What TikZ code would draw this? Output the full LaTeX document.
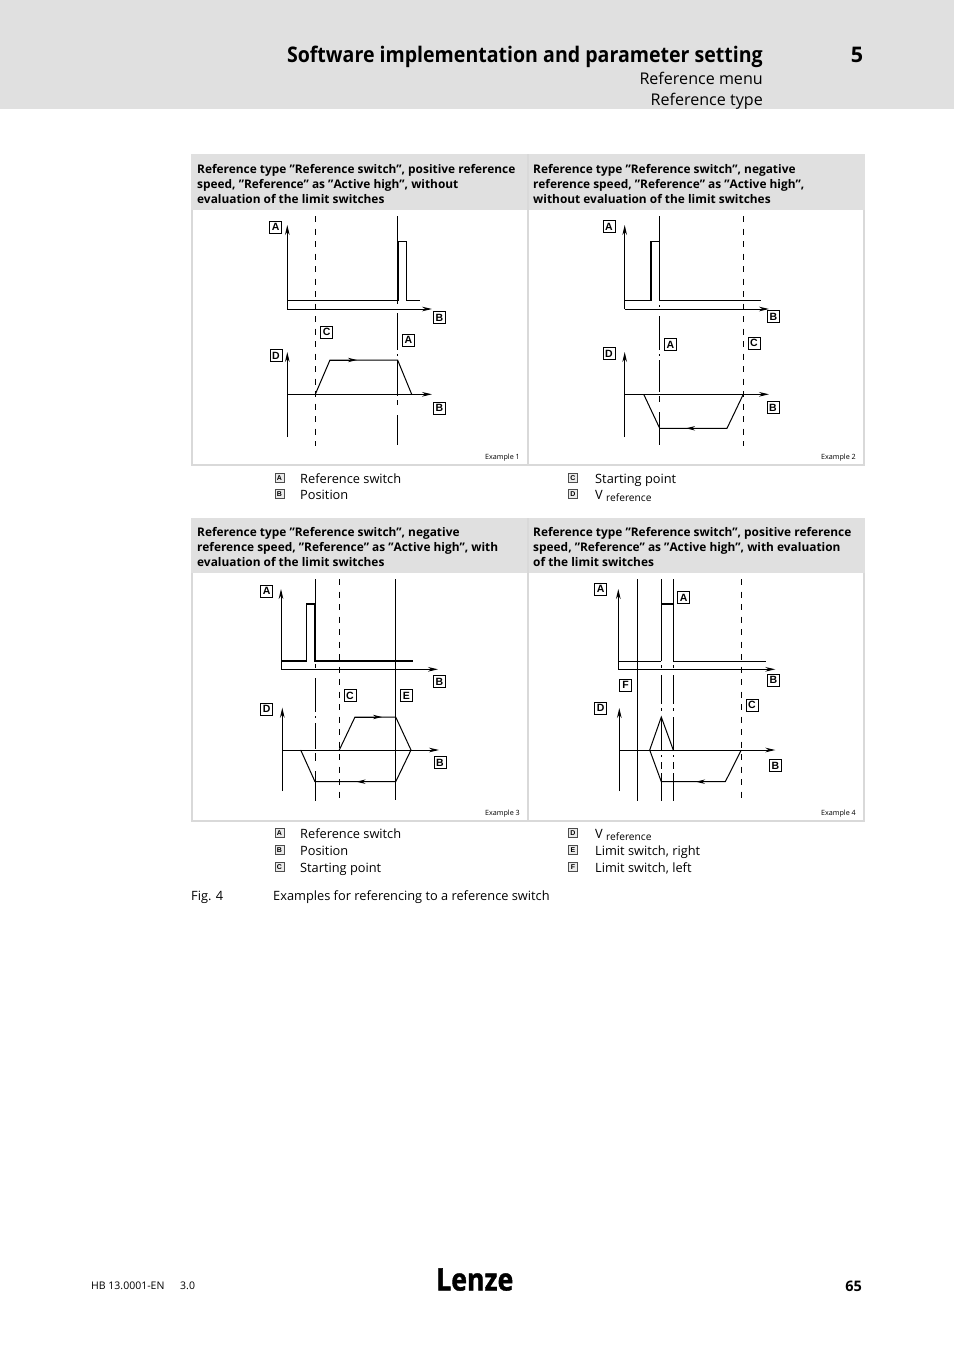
\documentclass[tikz,border=0pt]{standalone}
\usepackage{fontspec}
\setmainfont{Open Sans}
\newfontfamily\arialf{Liberation Sans}
\newfontfamily\titlef{Open Sans}[BoldFeatures={FakeStretch=0.91}]
\newfontfamily\logof{Open Sans}[BoldFeatures={FakeStretch=0.86,FakeBold=1.2}]
\usetikzlibrary{arrows.meta}
\definecolor{band}{HTML}{E0E0E0}
\definecolor{frameg}{HTML}{D9D9D9}
\newcommand{\fs}[1]{\fontsize{#1}{#1}\selectfont}
\tikzset{
  axis/.style={line width=1pt,-{Stealth[length=10pt,width=4.6pt]}},
  thin line/.style={line width=1pt},
  thick line/.style={line width=2pt},
  trace/.style={line width=1pt,line join=miter},
  dash line/.style={line width=1pt,dash pattern=on 6pt off 6.5pt},
  lbl/.style={draw,line width=.8pt,minimum width=12pt,minimum height=12pt,inner sep=0pt,font=\arialf\bfseries\fs{10.5}},
  ico/.style={draw=black!70,line width=.5pt,fill=black!8,minimum width=9pt,minimum height=9pt,inner sep=0pt,font=\arialf\bfseries\fs{7}},
  head/.style={anchor=north west,align=left,inner sep=0pt,font=\bfseries\fontsize{11.9}{15}\selectfont},
  legend/.style={anchor=base west,inner sep=0pt,font=\fs{12.8}},
  ex/.style={anchor=east,inner sep=0pt,font=\fs{7.2}},
  panel/.style={draw=frameg,line width=1.5pt},
  flow/.style={line width=1pt,-{Stealth[length=9pt,width=4.4pt]}},
}
\begin{document}
\begin{tikzpicture}[x=1pt,y=-1pt]
\useasboundingbox (0,0) rectangle (954,1350);
\fill[white] (0,0) rectangle (954,1350);
\fill[band] (0,0) rectangle (954,109);
\node[anchor=base east,inner sep=0pt,font=\titlef\bfseries\fs{21.5}] (title) at (763,62) {Software implementation and parameter setting};
\node[anchor=base,inner sep=0pt,font=\bfseries\fs{21.5}] (chap) at (857,62) {5};
\node[anchor=base east,inner sep=0pt,font=\fs{16.1}] (sub1) at (763,84) {Reference menu};
\node[anchor=base east,inner sep=0pt,font=\fs{16.1}] (sub2) at (763,105) {Reference type};
% panels
\draw[panel] (192,154) -- (192,465) -- (864,465) -- (864,154) (528,154) -- (528,465);
\draw[panel] (192,518) -- (192,821) -- (864,821) -- (864,518) (528,518) -- (528,821);
\fill[band] (191.3,154) rectangle (527,210);
\fill[band] (529,154) rectangle (864.7,210);
\fill[band] (191.3,518) rectangle (527,573);
\fill[band] (529,518) rectangle (864.7,573);
\node[head] (h1) at (197,164) {Reference type ”Reference switch”, positive reference\\speed, ”Reference” as ”Active high”, without\\evaluation of the limit switches};
\node[head] (h2) at (533,164) {Reference type ”Reference switch”, negative\\reference speed, ”Reference” as ”Active high”,\\without evaluation of the limit switches};
\node[head] (h3) at (197,527) {Reference type ”Reference switch”, negative\\reference speed, ”Reference” as ”Active high”, with\\evaluation of the limit switches};
\node[head] (h4) at (533,527) {Reference type ”Reference switch”, positive reference\\speed, ”Reference” as ”Active high”, with evaluation\\of the limit switches};
\node[ex] (e1) at (520,457.5) {Example 1};
\node[ex] (e2) at (856,457.5) {Example 2};
\node[ex] (e3) at (520,813.5) {Example 3};
\node[ex] (e4) at (856,813.5) {Example 4};
% diagram 1
\draw[dash line] (315.3,216) -- (315.3,446);
\draw[thin line] (397.6,216) -- (397.6,304) (397.6,313) -- (397.6,350) (397.6,354) -- (397.6,356) (397.6,360) -- (397.6,396) (397.6,400) -- (397.6,405) (397.6,415) -- (397.6,445);
\draw[axis] (287.3,309) -- (287.3,225);
\draw[axis] (287.3,309) -- (432,309);
\draw[thin line] (287.3,300.3) -- (397.6,300.3);
\draw[thick line] (398,300.8) -- (398,241);
\draw[thin line] (398,241) -- (406.7,241) -- (406.7,300.3) -- (420,300.3);
\draw[axis] (287.3,437) -- (287.3,352);
\draw[axis] (287.3,394.3) -- (432,394.3);
\draw[trace] (315.3,394.3) -- (330,360) -- (397.6,360) -- (411.7,394.3);
\draw[flow] (330,360) -- (357,360);
\node[lbl] (a1) at (275.7,227) {A};
\node[lbl] (b1) at (439.3,317.7) {B};
\node[lbl] (c1) at (326.7,332.3) {C};
\node[lbl] (a1b) at (408.3,340) {A};
\node[lbl] (d1) at (276,355.5) {D};
\node[lbl] (b1b) at (439.3,408.3) {B};
% diagram 2
\draw[dash line] (743.3,216) -- (743.3,446);
\draw[thin line] (659.7,216) -- (659.7,301) (659.7,305) -- (659.7,307) (659.7,316) -- (659.7,350) (659.7,354) -- (659.7,356) (659.7,360) -- (659.7,392) (659.7,396) -- (659.7,402) (659.7,412) -- (659.7,445);
\draw[axis] (624.7,309) -- (624.7,225);
\draw[axis] (624.7,309) -- (769,309);
\draw[thin line] (624.7,300.3) -- (650.7,300.3);
\draw[thick line] (650.7,300.8) -- (650.7,241);
\draw[thin line] (650.7,241) -- (659.7,241);
\draw[thin line] (659.7,300.3) -- (761.3,300.3);
\draw[axis] (624.7,437) -- (624.7,352);
\draw[axis] (624.7,394.3) -- (769,394.3);
\draw[trace] (643.7,394.3) -- (659.7,428.3) -- (727,428.3) -- (743.3,394.3);
\draw[flow] (714,428.3) -- (686,428.3);
\node[lbl] (a2) at (609,226.5) {A};
\node[lbl] (b2) at (773.5,316.7) {B};
\node[lbl] (a2b) at (670.3,344.7) {A};
\node[lbl] (c2) at (754,343.3) {C};
\node[lbl] (d2) at (609,353.5) {D};
\node[lbl] (b2b) at (773,407.7) {B};
% diagram 3
\draw[dash line] (339.3,579) -- (339.3,801);
\draw[thin line] (315,579) -- (315,660) (315,664) -- (315,668) (315,678) -- (315,712) (315,716) -- (315,718) (315,723) -- (315,749) (315,753) -- (315,761) (315,771) -- (315,801);
\draw[thin line] (395.7,579) -- (395.7,800);
\draw[axis] (281,669.3) -- (281,589);
\draw[axis] (281,669.3) -- (438,669.3);
\draw[thick line] (281,660.7) -- (306.7,660.7);
\draw[thin line] (306.7,660.7) -- (306.7,604);
\draw[thick line] (306.3,604) -- (315,604) -- (315,660.7) -- (412.7,660.7);
\draw[axis] (282.3,791) -- (282.3,707.7);
\draw[axis] (282.3,750) -- (439,750);
\draw[trace] (339.3,750) -- (355,717) -- (395.7,717) -- (411,750) -- (395.7,781.7) -- (315,781.7) -- (300.7,750);
\draw[flow] (355,717) -- (382,717);
\draw[flow] (384,781.7) -- (356.5,781.7);
\node[lbl] (a3) at (266.7,591) {A};
\node[lbl] (b3) at (439.3,681.7) {B};
\node[lbl] (c3) at (350,695.7) {C};
\node[lbl] (e3l) at (406.3,695.7) {E};
\node[lbl] (d3) at (266.7,709) {D};
\node[lbl] (b3b) at (440,762.7) {B};
% diagram 4
\draw[dash line] (741.3,579) -- (741.3,801);
\draw[thin line] (637.3,579) -- (637.3,801);
\draw[thin line] (661.3,579) -- (661.3,661) (661.3,665) -- (661.3,668) (661.3,675) -- (661.3,704) (661.3,708) -- (661.3,711) (661.3,717) -- (661.3,751) (661.3,755) -- (661.3,757) (661.3,762) -- (661.3,769) (661.3,773) -- (661.3,801);
\draw[thin line] (673.3,579) -- (673.3,661) (673.3,665) -- (673.3,668) (673.3,675) -- (673.3,704) (673.3,708) -- (673.3,711) (673.3,717) -- (673.3,751) (673.3,755) -- (673.3,757) (673.3,762) -- (673.3,769) (673.3,773) -- (673.3,801);
\draw[axis] (618.3,669.3) -- (618.3,589);
\draw[axis] (618.3,669.3) -- (775.3,669.3);
\draw[thin line] (618.3,661) -- (661.3,661);
\draw[thick line] (661.3,604) -- (673.3,604);
\draw[thin line] (673.3,661) -- (765.7,661);
\draw[axis] (619.3,791) -- (619.3,708);
\draw[axis] (619.3,750) -- (775.3,750);
\draw[trace] (741.3,750) -- (725.3,781.7) -- (661.3,781.7) -- (649.7,750) -- (661.3,717) -- (673.3,750);
\draw[flow] (712,781.7) -- (696,781.7);
\draw[line width=1.5pt] (661.3,781.7) -- (696,781.7);
\node[lbl] (a4) at (600.7,589) {A};
\node[lbl] (a4b) at (683.7,597.7) {A};
\node[lbl] (f4) at (625.7,685) {F};
\node[lbl] (b4) at (773.3,680) {B};
\node[lbl] (d4) at (600.7,708.3) {D};
\node[lbl] (c4) at (752,705) {C};
\node[lbl] (b4b) at (775.3,765.7) {B};
% legends
\node[ico] (la) at (279.3,478) {A}; \node[legend] (lat) at (300,483) {Reference switch};
\node[ico] (lb) at (279.3,494) {B}; \node[legend] (lbt) at (300,499) {Position};
\node[ico] (lc) at (573,478) {C}; \node[legend] (lct) at (595,483) {Starting point};
\node[ico] (ld) at (573,494) {D}; \node[legend] (ldt) at (595,499) {V {\fs{10.2}\raisebox{-2.5pt}{reference}}};
\node[ico] (ma) at (279.3,833) {A}; \node[legend] (mat) at (300,838) {Reference switch};
\node[ico] (mb) at (279.3,850) {B}; \node[legend] (mbt) at (300,855) {Position};
\node[ico] (mc) at (279.3,867) {C}; \node[legend] (mct) at (300,872) {Starting point};
\node[ico] (md) at (573,833) {D}; \node[legend] (mdt) at (595,838) {V {\fs{10.2}\raisebox{-2.5pt}{reference}}};
\node[ico] (me) at (573,850) {E}; \node[legend] (met) at (595,855) {Limit switch, right};
\node[ico] (mf) at (573,867) {F}; \node[legend] (mft) at (595,872) {Limit switch, left};
\node[legend] (fig) at (191,900) {Fig. 4};
\node[legend] (figt) at (273,900) {Examples for referencing to a reference switch};
% footer
\node[anchor=base west,inner sep=0pt,font=\fs{10.5}] (hb) at (91,1289) {HB 13.0001-EN};
\node[anchor=base west,inner sep=0pt,font=\fs{10.5}] (ver) at (180,1289) {3.0};
\node[anchor=base west,inner sep=0pt,font=\logof\bfseries\fs{31}] (logo) at (436,1290.5) {Lenze};
\node[anchor=base east,inner sep=0pt,font=\bfseries\fs{14.5}] (pg) at (862,1291) {65};
\end{tikzpicture}
\end{document}
